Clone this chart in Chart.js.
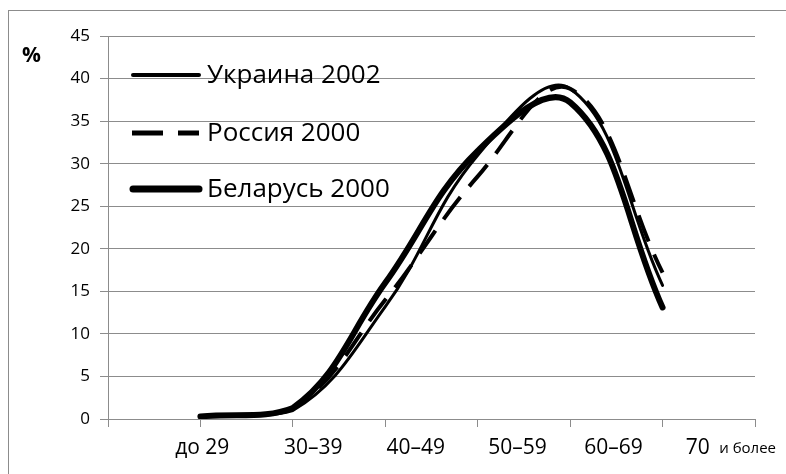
<!DOCTYPE html>
<html>
<head>
<meta charset="utf-8">
<script src="https://cdn.jsdelivr.net/npm/chart.js@4"></script>
<style>
  body { margin: 0; background: #fff; }
  #wrap { position: relative; width: 786px; height: 474px; }
</style>
</head>
<body>
<div id="wrap"><canvas id="chart" width="786" height="474"></canvas></div>
<script>
// age groups (x positions 1..6) and tick labels under the axis
var ageGroups = ['до 29', '30–39', '40–49', '50–59', '60–69', '70 и более'];
var xTickLabels = ['до 29', '30–39', '40–49', '50–59', '60–69', '70', 'и более'];
var xTickPos = [1.02, 2.22, 3.33, 4.43, 5.47, 6.38, 6.92];

var seriesNames = ['Украина 2002', 'Россия 2000', 'Беларусь 2000'];
var ukraine = [0.3, 1.0, 13.2, 31, 38.8, 15.7];
var russia = [0.3, 1.3, 14, 28.5, 38.8, 17.2];
var belarus = [0.3, 1.3, 16.0, 31.5, 37.2, 13.1];

var yTicks = [0, 5, 10, 15, 20, 25, 30, 35, 40, 45];

var FONT = '"Open Sans", "DejaVu Sans", sans-serif';
var GRID = '#8c8c8c';

function points(values) {
  var out = [];
  for (var i = 0; i < values.length; i++) {
    out.push({x: i + 1, y: values[i]});
  }
  return out;
}

var styles = [
  {width: 3, dash: [], cap: 'round'},
  {width: 4, dash: [28, 14], cap: 'butt'},
  {width: 6, dash: [], cap: 'round'}
];

// legend and decorations drawn straight on the canvas
var extras = {
  id: 'extras',
  beforeDraw: function(chart) {
    var ctx = chart.ctx;
    ctx.save();
    ctx.strokeStyle = GRID;
    ctx.lineWidth = 1;
    ctx.strokeRect(8.5, 10.5, 1000, 1000);
    ctx.restore();
  },
  afterDraw: function(chart) {
    var ctx = chart.ctx;
    ctx.save();
    ctx.fillStyle = '#000';
    ctx.font = 'bold 21px ' + FONT;
    ctx.textBaseline = 'middle';
    ctx.fillText('%', 22, 56);

    var rows = [75, 133, 189];
    for (var i = 0; i < seriesNames.length; i++) {
      var st = styles[i];
      ctx.strokeStyle = '#000';
      ctx.lineWidth = st.width + 1;
      ctx.lineCap = st.cap;
      ctx.setLineDash(st.dash.length ? [31, 15] : []);
      ctx.beginPath();
      ctx.moveTo(i === 1 ? 132 : 133, rows[i]);
      ctx.lineTo(199, rows[i]);
      ctx.stroke();
      ctx.setLineDash([]);
      ctx.font = '26px ' + FONT;
      ctx.fillText(seriesNames[i], 207, rows[i] + 1);
    }
    ctx.restore();
  }
};

var datasets = [ukraine, russia, belarus].map(function(vals, i) {
  return {
    label: seriesNames[i],
    data: points(vals),
    borderColor: '#000',
    borderWidth: styles[i].width,
    borderDash: styles[i].dash,
    borderCapStyle: styles[i].cap,
    borderJoinStyle: 'round',
    pointRadius: 0,
    tension: 0.4,
    fill: false
  };
});

new Chart(document.getElementById('chart'), {
  type: 'line',
  data: {datasets: datasets},
  plugins: [extras],
  options: {
    responsive: false,
    animation: false,
    layout: {padding: {left: 0, right: 31, top: 36, bottom: 0}},
    plugins: {
      legend: {display: false},
      tooltip: {enabled: false}
    },
    scales: {
      x: {
        type: 'linear',
        position: 'bottom',
        min: 0,
        max: 7,
        afterBuildTicks: function(scale) {
          var t = [];
          for (var i = 0; i <= 7; i++) t.push({value: i});
          scale.ticks = t;
        },
        afterFit: function(scale) { scale.height = 8; },
        grid: {display: true, drawOnChartArea: false, tickLength: 8, color: GRID},
        border: {display: true, color: GRID},
        ticks: {display: false}
      },
      xl: {
        type: 'linear',
        position: 'bottom',
        min: 0,
        max: 7,
        afterBuildTicks: function(scale) {
          scale.ticks = xTickPos.map(function(v) { return {value: v}; });
        },
        afterFit: function(scale) { scale.height = 474 - 419 - 8; },
        grid: {display: false, drawTicks: false},
        border: {display: false},
        ticks: {
          autoSkip: false,
          maxRotation: 0,
          padding: 8,
          color: '#000',
          font: function(c) {
            // the small "и более" sits on the same baseline as "70"
            return c.index === 6 ?
              {family: FONT, size: 15, lineHeight: 1.85} :
              {family: FONT, size: 21, lineHeight: 1.2};
          },
          callback: function(v, idx) { return xTickLabels[idx]; }
        }
      },
      y: {
        min: 0,
        max: 45,
        afterBuildTicks: function(scale) {
          scale.ticks = yTicks.map(function(v) { return {value: v}; });
        },
        afterFit: function(scale) { scale.width = 108; },
        grid: {color: GRID, tickLength: 8},
        border: {color: GRID},
        ticks: {
          color: '#000',
          padding: 10,
          font: {family: FONT, size: 17}
        }
      }
    }
  }
});
</script>
</body>
</html>
